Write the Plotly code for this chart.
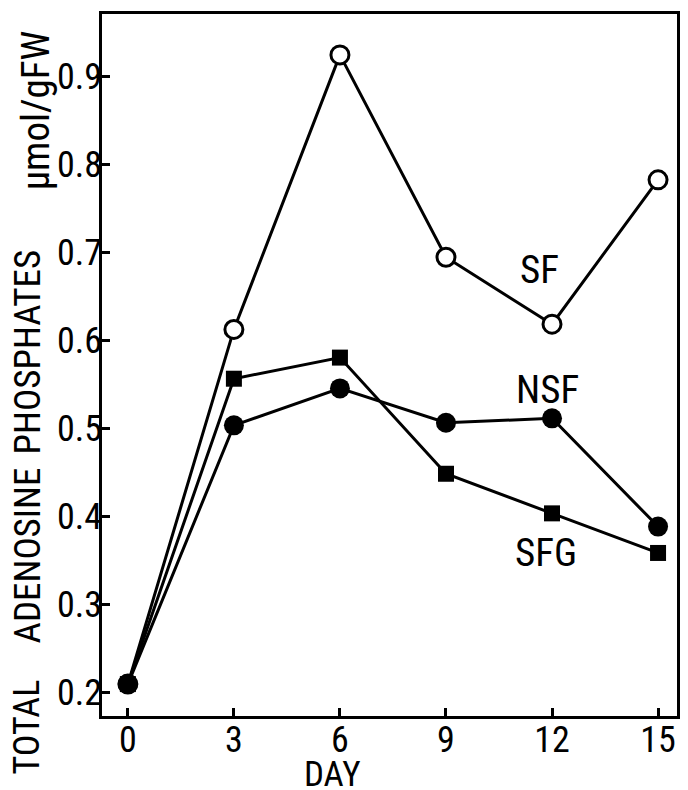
import plotly.graph_objects as go

days = [0, 3, 6, 9, 12, 15]
sf = [0.209, 0.612, 0.924, 0.694, 0.618, 0.782]
nsf = [0.209, 0.503, 0.545, 0.506, 0.511, 0.388]
sfg = [0.209, 0.556, 0.580, 0.448, 0.403, 0.358]
x_ticks = [0, 3, 6, 9, 12, 15]
y_ticks = [0.2, 0.3, 0.4, 0.5, 0.6, 0.7, 0.8, 0.9]
y_tick_labels = ["0.2", "0.3", "0.4", "0.5", "0.6", "0.7", "0.8", "0.9"]
series_labels = ["SF", "NSF", "SFG"]
series_label_x = [11.65, 11.88, 11.82]
series_label_y = [0.680, 0.543, 0.358]

FONT = "Roboto Condensed, Roboto, sans-serif"

W, H = 688, 790
ML, MR, MT, MB = 102, 8, 14, 74
PW, PH = W - ML - MR, H - MT - MB


def px(xp):
    return (xp - ML) / PW


def py(yp):
    return (H - MB - yp) / PH


fig = go.Figure()
fig.add_trace(go.Scatter(x=days, y=sf, mode="lines+markers",
                         line=dict(color="black", width=3),
                         marker=dict(symbol="circle", size=18, color="white",
                                     line=dict(color="black", width=3))))
fig.add_trace(go.Scatter(x=days, y=sfg, mode="lines+markers",
                         line=dict(color="black", width=3),
                         marker=dict(symbol="square", size=16, color="black")))
fig.add_trace(go.Scatter(x=days, y=nsf, mode="lines+markers",
                         line=dict(color="black", width=3),
                         marker=dict(symbol="circle", size=20, color="black")))

annotations = []
for t, xv, yv in zip(series_labels, series_label_x, series_label_y):
    annotations.append(dict(x=xv, y=yv, text=t, xref="x", yref="y",
                            xanchor="center", yanchor="middle", showarrow=False,
                            font=dict(family=FONT, size=39, color="black")))

annotations.append(dict(x=px(334), y=py(774), xref="paper", yref="paper", text="DAY",
                        xanchor="center", yanchor="middle", showarrow=False,
                        font=dict(family=FONT, size=35, color="black")))

title_parts = [("TOTAL", 727, 27, 36), ("ADENOSINE", 555, 27, 37),
               ("PHOSPHATES", 352, 27, 37), ("µmol/gFW", 110, 36, 39)]
for t, yc, xc, fs in title_parts:
    annotations.append(dict(x=px(xc), y=py(yc), xref="paper", yref="paper",
                            text=t, textangle=-90, xanchor="center", yanchor="middle",
                            showarrow=False,
                            font=dict(family=FONT, size=fs, color="black")))

fig.update_layout(
    width=W, height=H,
    margin=dict(l=ML, r=MR, t=MT, b=MB),
    paper_bgcolor="white", plot_bgcolor="white",
    showlegend=False,
    font=dict(family=FONT, color="black", size=30),
    annotations=annotations,
)

fig.update_xaxes(range=[(ML - 128) / 35.53, (W - MR - 128) / 35.53],
                 tickvals=x_ticks, ticks="inside", ticklen=8,
                 tickwidth=2.5, tickcolor="black", showline=True, linecolor="black",
                 linewidth=2.5, mirror=True, showgrid=False, zeroline=False,
                 ticklabelstandoff=-10,
                 tickfont=dict(family=FONT, size=36, color="black"))
fig.update_yaxes(range=[0.2 - (H - MB - 692) / 880, 0.9 + (76 - MT) / 880],
                 tickvals=y_ticks, ticktext=y_tick_labels,
                 ticks="inside", ticklen=8, tickwidth=2.5, tickcolor="black",
                 showline=True, linecolor="black", linewidth=2.5, mirror=True,
                 showgrid=False, zeroline=False, ticklabelstandoff=-10,
                 tickfont=dict(family=FONT, size=36, color="black"))

fig.write_html("out.html")
